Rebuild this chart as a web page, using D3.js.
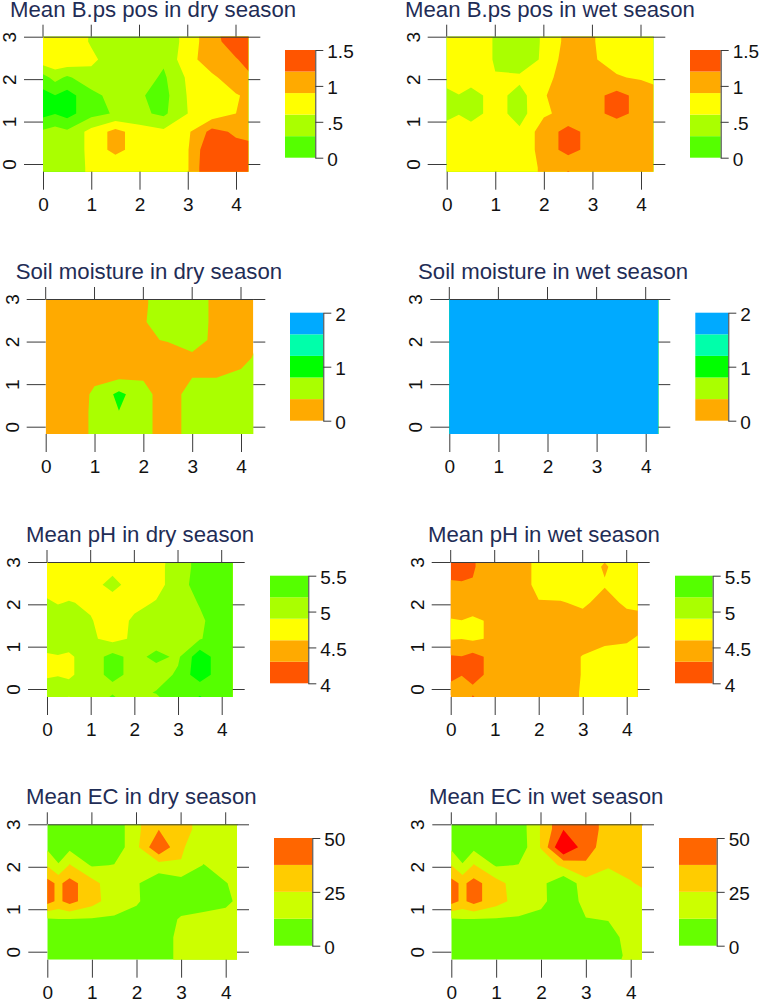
<!DOCTYPE html>
<html lang="en">
<head>
<meta charset="UTF-8">
<title>Soil maps by season</title>
<script src="https://d3js.org/d3.v7.min.js"></script>
<style>
  html, body { margin: 0; padding: 0; background: #fff; }
  svg { display: block; }
  text { font-family: "Liberation Sans", Arial, sans-serif; }
</style>
</head>
<body>
<svg id="chart" width="760" height="1002"></svg>
<script>
// sample grid, columns left to right and rows top to bottom
const xNodes = [0, 0.25, 0.5, 1, 1.5, 2, 2.5, 3, 3.5, 4, 4.5];
const yNodes = [3.3125, 2.8875, 2.4625, 2.0375, 1.6125, 1.1875, 0.7625, 0.3375, -0.0875, -0.5125];

const bpsDry = [
  [0.8, 0.8, 0.8, 0.58, 0.5, 0.5, 0.4, 0.72, 1.1, 1.5, 1.6],
  [0.8, 0.8, 0.8, 0.57, 0.5, 0.5, 0.38, 0.72, 1.1, 1.35, 1.6],
  [0.79, 0.85, 0.85, 0.66, 0.45, 0.45, 0.35, 0.8, 1.05, 1.18, 1.4],
  [0.19, 0.4, 0.25, 0.5, 0.45, 0.45, 0.25, 0.65, 0.85, 1.05, 1.25],
  [-0.1, -0.01, -0.12, 0.2, 0.42, 0.33, 0.2, 0.62, 0.8, 0.88, 1.0],
  [-0.1, -0.01, -0.12, 0.2, 0.33, 0.36, 0.24, 0.6, 0.72, 0.9, 1.0],
  [0.35, 0.42, 0.35, 0.7, 1.0, 0.75, 0.66, 0.85, 1.3, 1.15, 1.1],
  [0.42, 0.42, 0.35, 0.7, 1.0, 0.75, 0.7, 0.88, 1.5, 1.3, 1.25],
  [0.42, 0.42, 0.42, 0.66, 0.65, 0.75, 0.62, 0.88, 1.55, 1.4, 1.4],
  [0.42, 0.42, 0.42, 0.66, 0.75, 0.75, 0.62, 0.88, 1.55, 1.4, 1.4]
];
const bpsWet = [
  [0.75, 0.75, 0.75, 0.58, 0.35, 0.65, 1.0, 0.92, 0.75, 0.75, 0.75],
  [0.75, 0.75, 0.75, 0.58, 0.35, 0.65, 1.0, 0.92, 0.75, 0.75, 0.75],
  [0.75, 0.75, 0.75, 0.58, 0.3, 0.68, 1.05, 0.92, 0.82, 0.75, 0.72],
  [0.75, 0.75, 0.75, 0.61, 0.68, 0.8, 1.05, 0.92, 0.92, 0.87, 0.72],
  [0.5, 0.59, 0.48, 0.72, 0.48, 0.88, 1.05, 1.1, 1.3, 1.1, 1.0],
  [0.5, 0.59, 0.48, 0.72, 0.48, 0.86, 0.98, 1.1, 1.3, 1.1, 1.0],
  [0.75, 0.75, 0.75, 0.75, 0.65, 1.05, 1.3, 1.1, 0.95, 1.05, 1.05],
  [0.75, 0.75, 0.75, 0.75, 0.65, 1.05, 1.3, 1.1, 1.05, 1.05, 1.05],
  [0.75, 0.75, 0.75, 0.75, 0.75, 0.95, 0.98, 1.05, 1.05, 1.05, 1.05],
  [0.75, 0.75, 0.75, 0.75, 0.75, 0.95, 2.2, 1.05, 1.05, 1.05, 1.05]
];
const soilDry = [
  [0.1, 0.1, 0.1, 0.1, 0.1, 0.35, 0.6, 0.6, 0.3, 0.1, 0.1],
  [0.1, 0.1, 0.1, 0.1, 0.1, 0.35, 0.6, 0.6, 0.3, 0.1, 0.1],
  [0.1, 0.1, 0.1, 0.1, 0.1, 0.37, 0.6, 0.6, 0.3, 0.1, 0.1],
  [0.1, 0.1, 0.1, 0.1, 0.1, 0.36, 0.42, 0.6, 0.28, 0.1, 0.5],
  [0.1, 0.1, 0.1, 0.1, 0.1, 0.25, 0.25, 0.3, 0.2, 0.25, 0.6],
  [0.1, 0.1, 0.1, 0.3, 0.3, 0.35, 0.2, 0.38, 0.38, 0.5, 0.6],
  [0.1, 0.1, 0.1, 0.48, 0.9, 0.55, 0.15, 0.6, 0.6, 0.6, 0.6],
  [0.1, 0.1, 0.1, 0.5, 0.79, 0.55, 0.15, 0.6, 0.6, 0.6, 0.6],
  [0.1, 0.1, 0.1, 0.5, 0.6, 0.55, 0.15, 0.6, 0.6, 0.6, 0.6],
  [0.1, 0.1, 0.1, 0.5, 0.6, 0.55, 0.15, 0.6, 0.6, 0.6, 0.6]
];
const soilWet = [
  [1.9, 1.9, 1.9, 1.9, 1.9, 1.9, 1.9, 1.9, 1.9, 1.9, 1.9],
  [1.9, 1.9, 1.9, 1.9, 1.9, 1.9, 1.9, 1.9, 1.9, 1.9, 1.9],
  [1.9, 1.9, 1.9, 1.9, 1.9, 1.9, 1.9, 1.9, 1.9, 1.9, 1.9],
  [1.9, 1.9, 1.9, 1.9, 1.9, 1.9, 1.9, 1.9, 1.9, 1.9, 1.9],
  [1.9, 1.9, 1.9, 1.9, 1.9, 1.9, 1.9, 1.9, 1.9, 1.9, 1.9],
  [1.9, 1.9, 1.9, 1.9, 1.9, 1.9, 1.9, 1.9, 1.9, 1.9, 1.9],
  [1.9, 1.9, 1.9, 1.9, 1.9, 1.9, 1.9, 1.9, 1.9, 1.9, 1.9],
  [1.9, 1.9, 1.9, 1.9, 1.9, 1.9, 1.9, 1.9, 1.9, 1.9, 1.9],
  [1.9, 1.9, 1.9, 1.9, 1.9, 1.9, 1.9, 1.9, 1.9, 1.9, 1.9],
  [1.9, 1.9, 1.9, 1.9, 1.9, 1.9, 1.9, 1.9, 1.9, 1.9, 1.9]
];
const phDry = [
  [4.75, 4.75, 4.75, 4.75, 4.75, 4.75, 4.75, 5.05, 5.3, 5.35, 5.35],
  [4.75, 4.75, 4.75, 4.75, 4.8, 4.75, 4.8, 5.05, 5.3, 5.35, 5.35],
  [4.75, 4.75, 4.75, 4.78, 5.0, 4.75, 4.8, 5.05, 5.35, 5.35, 5.35],
  [4.95, 4.88, 4.92, 4.85, 4.75, 4.82, 4.92, 5.05, 5.22, 5.35, 5.35],
  [5.1, 5.1, 5.05, 4.92, 4.75, 4.95, 5.05, 5.1, 5.15, 5.35, 5.35],
  [5.1, 5.1, 5.05, 4.95, 4.8, 4.95, 5.05, 5.15, 5.18, 5.35, 5.4],
  [4.85, 4.88, 4.85, 5.05, 5.3, 5.1, 5.28, 5.15, 5.7, 5.3, 5.35],
  [4.85, 4.88, 4.85, 5.05, 5.3, 5.1, 5.05, 5.25, 5.7, 5.3, 5.35],
  [5.1, 5.1, 5.05, 5.1, 5.05, 5.1, 5.22, 5.25, 5.2, 5.3, 5.35],
  [4.3, 5.1, 4.3, 5.1, 6.5, 5.1, 4.9, 5.25, 7, 5.3, 5.35]
];
const phWet = [
  [4.1, 4.1, 4.27, 4.5, 4.5, 4.65, 4.75, 4.75, 4.7, 4.75, 4.75],
  [4.1, 4.1, 4.27, 4.5, 4.5, 4.65, 4.75, 4.75, 4.57, 4.75, 4.75],
  [4.37, 4.35, 4.32, 4.5, 4.5, 4.65, 4.75, 4.75, 4.62, 4.65, 4.72],
  [4.45, 4.45, 4.45, 4.45, 4.45, 4.59, 4.58, 4.65, 4.5, 4.65, 4.7],
  [4.62, 4.605, 4.65, 4.55, 4.5, 4.5, 4.5, 4.5, 4.5, 4.5, 4.52],
  [4.62, 4.605, 4.65, 4.55, 4.5, 4.5, 4.5, 4.5, 4.5, 4.55, 4.72],
  [4.27, 4.29, 4.2, 4.4, 4.5, 4.5, 4.5, 4.61, 4.75, 4.75, 4.75],
  [4.25, 4.29, 4.2, 4.4, 4.5, 4.5, 4.5, 4.61, 4.75, 4.75, 4.75],
  [4.38, 4.45, 4.38, 4.5, 4.5, 4.5, 4.5, 4.62, 4.75, 4.75, 4.75],
  [3.8, 4.6, 3.8, 4.5, 4.5, 4.5, 4.5, 4.62, 4.75, 4.75, 4.75]
];
const ecDry = [
  [8, 8, 8, 8, 4, 22, 37, 30, 20, 18, 18],
  [8, 8, 8, 8, 4, 22, 37, 30, 20, 18, 18],
  [10, 8, 9, 7, 4, 22, 49.5, 26, 20, 18, 18],
  [24, 13, 26, 11, 13, 20, 20, 24.5, 12, 18, 18],
  [42, 35, 42, 30, 16, 14, 3, 6, 6, 12, 18],
  [42, 35, 42, 30, 18, 14, 5, 6, 6, 10, 18],
  [11, 12, 11.9, 11.5, 11, 8, 5, 14, 17, 17, 18],
  [8, 8, 8, 8, 8, 8, 6, 16, 17, 17, 17],
  [8, 8, 8, 8, 8, 8, 6, 16, 17, 17, 17],
  [8, 8, 8, 8, 8, 8, 6, 16, 17, 17, 17]
];
const ecWet = [
  [8, 8, 8, 8, 5, 26, 49.5, 45, 32, 30, 30],
  [8, 8, 8, 8, 5, 26, 49.5, 45, 32, 30, 30],
  [10, 8, 9, 7, 4, 26, 65, 42, 32, 30, 30],
  [25, 13, 26, 11, 13, 16, 28, 36, 26, 30, 30],
  [42, 35, 42, 30, 18, 16, 2, 20, 20, 24, 30],
  [42, 35, 42, 30, 20, 16, 3, 17, 20, 20, 22],
  [11, 12, 11.9, 11.5, 11, 8, 5, 12, 13, 17, 20],
  [8, 8, 8, 8, 8, 8, 6, 8, 8, 17, 20],
  [8, 8, 8, 8, 8, 8, 6, 8, 8, 15, 18],
  [8, 8, 8, 8, 8, 8, 6, 8, 8, 20, 20]
];

// contour levels, band colours and legend per variable
const bpsLevels = [0, 0.3, 0.6, 0.9, 1.2];
const bpsFills = ["#00ff00", "#55ff00", "#aaff00", "#ffff00", "#ffaa00", "#ff5500"];
const bpsTicks = [0, 0.5, 1, 1.5];
const bpsTickLabels = ["0", ".5", "1", "1.5"];

const soilLevels = [0.4, 0.8, 1.2, 1.6];
const soilFills = ["#ffaa00", "#aaff00", "#00ff00", "#00ffaa", "#00aaff"];
const soilTicks = [0, 1, 2];
const soilTickLabels = ["0", "1", "2"];

const phLevels = [4.3, 4.6, 4.9, 5.2, 5.5];
const phFills = ["#ff5500", "#ffaa00", "#ffff00", "#aaff00", "#55ff00", "#00ff00"];
const phTicks = [4, 4.5, 5, 5.5];
const phTickLabels = ["4", "4.5", "5", "5.5"];

const ecLevels = [12.5, 25, 37.5, 50];
const ecFills = ["#66ff00", "#ccff00", "#ffcc00", "#ff6600", "#ff0000"];
const ecTicks = [0, 25, 50];
const ecTickLabels = ["0", "25", "50"];

const bpsVar = { levels: bpsLevels, fills: bpsFills, legendFills: bpsFills.slice(1), min: 0, max: 1.5, ticks: bpsTicks, labels: bpsTickLabels };
const soilVar = { levels: soilLevels, fills: soilFills, legendFills: soilFills, min: 0, max: 2, ticks: soilTicks, labels: soilTickLabels };
const phVar = { levels: phLevels, fills: phFills, legendFills: phFills.slice(0, 5), min: 4, max: 5.5, ticks: phTicks, labels: phTickLabels };
const ecVar = { levels: ecLevels, fills: ecFills, legendFills: ecFills.slice(0, 4), min: 0, max: 50, ticks: ecTicks, labels: ecTickLabels };

const panels = [
  { title: "Mean B.ps pos in dry season", grid: bpsDry, v: bpsVar, tx: 10, ty: 17, x0: 43, x4: 236, right: 248.3, y3: 36.7, y0: 164, bottom: 171.7, lx0: 285, lx1: 315.3, ly0: 50, ly1: 157.7 },
  { title: "Mean B.ps pos in wet season", grid: bpsWet, v: bpsVar, tx: 405, ty: 17, x0: 446.7, x4: 641, right: 653.3, y3: 36.7, y0: 164, bottom: 171.7, lx0: 690, lx1: 720.7, ly0: 50, ly1: 157.7 },
  { title: "Soil moisture in dry season", grid: soilDry, v: soilVar, tx: 15.7, ty: 279, x0: 45.7, x4: 241, right: 253.3, y3: 299, y0: 426.7, bottom: 434, lx0: 290, lx1: 323.3, ly0: 312.7, ly1: 420.7 },
  { title: "Soil moisture in wet season", grid: soilWet, v: soilVar, tx: 418, ty: 279, x0: 449.3, x4: 645.7, right: 658.3, y3: 299, y0: 426.7, bottom: 434, lx0: 695.3, lx1: 728.3, ly0: 312.7, ly1: 420.7 },
  { title: "Mean pH in dry season", grid: phDry, v: phVar, tx: 26, ty: 541.7, x0: 47, x4: 221.7, right: 232.7, y3: 562, y0: 689, bottom: 697, lx0: 270, lx1: 308.3, ly0: 575.7, ly1: 683.3 },
  { title: "Mean pH in wet season", grid: phWet, v: phVar, tx: 428, ty: 541.7, x0: 450.7, x4: 626.7, right: 637.7, y3: 562, y0: 689, bottom: 697, lx0: 675, lx1: 712.7, ly0: 575.7, ly1: 683.3 },
  { title: "Mean EC in dry season", grid: ecDry, v: ecVar, tx: 26, ty: 804, x0: 47.3, x4: 225.7, right: 237, y3: 824.3, y0: 951.7, bottom: 959.7, lx0: 274, lx1: 312.3, ly0: 838, ly1: 945.7 },
  { title: "Mean EC in wet season", grid: ecWet, v: ecVar, tx: 429, ty: 804, x0: 451.3, x4: 630.7, right: 642, y3: 824.3, y0: 951.7, bottom: 959.7, lx0: 679, lx1: 716.7, ly0: 838, ly1: 945.7 }
];

const svg = d3.select("#chart");
const defs = svg.append("defs");
const tickColor = "#3a3a3a";
const n = xNodes.length, m = yNodes.length;

// d3.contours puts node i at i + 0.5, these map back to the uneven grid
const colToX = d3.scaleLinear().domain(xNodes.map((d, i) => i + 0.5)).range(xNodes);
const rowToY = d3.scaleLinear().domain(yNodes.map((d, i) => i + 0.5)).range(yNodes);
const contours = d3.contours().size([n, m]);

function styleAxis(g) {
  g.selectAll("line").attr("stroke", tickColor).attr("stroke-width", 1);
  g.selectAll("path.domain").attr("stroke", tickColor).attr("stroke-width", 1);
  g.selectAll("text").attr("fill", "#111").attr("font-size", 19).attr("font-family", '"Liberation Sans", Arial, sans-serif');
}

panels.forEach((p, idx) => {
  const x = d3.scaleLinear().domain([0, 4]).range([p.x0, p.x4]);
  const y = d3.scaleLinear().domain([0, 3]).range([p.y0, p.y3]);
  const g = svg.append("g");

  defs.append("clipPath").attr("id", "clip" + idx).append("rect")
    .attr("x", p.x0).attr("y", p.y3)
    .attr("width", p.right - p.x0).attr("height", p.bottom - p.y3);

  const path = d3.geoPath(d3.geoTransform({
    point(cx, cy) { this.stream.point(x(colToX(cx)), y(rowToY(cy))); }
  }));

  const plot = g.append("g").attr("clip-path", `url(#clip${idx})`);
  plot.append("rect")
    .attr("x", p.x0).attr("y", p.y3)
    .attr("width", p.right - p.x0).attr("height", p.bottom - p.y3)
    .attr("fill", p.v.fills[0]);
  const values = p.grid.flat();
  plot.selectAll("path").data(p.v.levels).enter().append("path")
    .attr("d", t => path(contours.contour(values, t)))
    .attr("fill", (t, i) => p.v.fills[i + 1]);

  // axes on all four sides, R style
  const ticksX = [0, 1, 2, 3, 4], ticksY = [0, 1, 2, 3];
  const bottom = g.append("g").attr("transform", `translate(0,${p.bottom})`)
    .call(d3.axisBottom(x).tickValues(ticksX).tickSizeInner(18).tickSizeOuter(0).tickPadding(8).tickFormat(d3.format("d")));
  bottom.select("path.domain").remove();
  styleAxis(bottom);

  const top = g.append("g").attr("transform", `translate(0,${p.y3})`)
    .call(d3.axisTop(x.copy().domain([0, 4.25]).range([p.x0, p.right])).tickValues([]).tickSizeOuter(0));
  top.selectAll(null).data(ticksX).enter().append("line")
    .attr("x1", d => x(d)).attr("x2", d => x(d)).attr("y1", 0).attr("y2", -12);
  styleAxis(top);

  const left = g.append("g").attr("transform", `translate(${p.x0},0)`)
    .call(d3.axisLeft(y).tickValues(ticksY).tickSizeInner(19).tickSizeOuter(0).tickPadding(9).tickFormat(d3.format("d")));
  left.select("path.domain").remove();
  left.selectAll("text")
    .attr("x", 0).attr("dy", 0).attr("text-anchor", "middle")
    .attr("transform", "translate(-27,0) rotate(-90)");
  styleAxis(left);

  const right = g.append("g").attr("transform", `translate(${p.right},0)`)
    .call(d3.axisRight(y).tickValues(ticksY).tickSizeInner(12).tickSizeOuter(0).tickFormat(""));
  right.select("path.domain").remove();
  styleAxis(right);

  // legend strip
  const ly = d3.scaleLinear().domain([p.v.min, p.v.max]).range([p.ly1, p.ly0]);
  const stepV = (p.v.max - p.v.min) / p.v.legendFills.length;
  g.append("g").selectAll("rect").data(p.v.legendFills).enter().append("rect")
    .attr("x", p.lx0).attr("width", p.lx1 - p.lx0)
    .attr("y", (d, i) => ly(p.v.min + (i + 1) * stepV))
    .attr("height", (d, i) => ly(p.v.min + i * stepV) - ly(p.v.min + (i + 1) * stepV))
    .attr("fill", d => d);
  const la = g.append("g").attr("transform", `translate(${p.lx1},0)`)
    .call(d3.axisRight(ly).tickValues(p.v.ticks).tickSizeInner(8).tickSizeOuter(0).tickPadding(4)
      .tickFormat(d => p.v.labels[p.v.ticks.indexOf(d)]));
  styleAxis(la);
  la.selectAll("text").attr("dy", "0.42em");

  g.append("text").attr("x", p.tx).attr("y", p.ty)
    .attr("font-size", 22.2).attr("fill", "#1f2d56")
    .text(p.title);
});
</script>
</body>
</html>
